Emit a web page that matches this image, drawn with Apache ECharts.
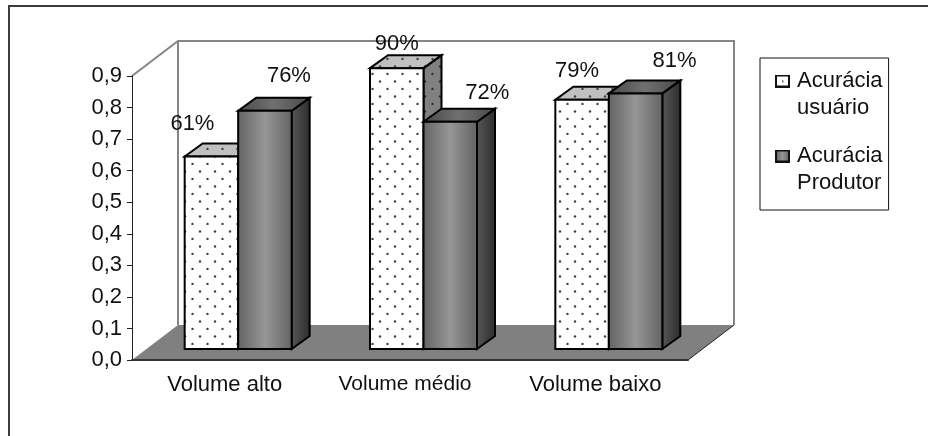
<!DOCTYPE html>
<html>
<head>
<meta charset="utf-8">
<style>html,body{margin:0;padding:0;background:#fff}#c{width:928px;height:436px}</style>
<script src="https://cdn.jsdelivr.net/npm/echarts@6/dist/echarts.min.js"></script>
</head>
<body>
<div id="c"></div>
<script>
var categories = ['Volume alto', 'Volume médio', 'Volume baixo'];
var yTicks = ['0,0', '0,1', '0,2', '0,3', '0,4', '0,5', '0,6', '0,7', '0,8', '0,9'];
var seriesNames = ['Acurácia usuário', 'Acurácia Produtor'];
var usuarioValues = [0.61, 0.89, 0.79];
var produtorValues = [0.755, 0.72, 0.81];
var usuarioLabels = ['61%', '90%', '79%'];
var produtorLabels = ['76%', '72%', '81%'];
// label nudges from the front-top centre of each bar
var usuarioNudge = [[-19, -33], [0, -24], [-5, -29]];
var produtorNudge = [[24, -35], [37, -29], [39, -32]];

var FONT = '"Liberation Sans", Arial, sans-serif';
var FONT_SIZE = 22;
var TEXT = '#111';

function dots(bg, dot) {
  var c = document.createElement('canvas');
  c.width = 15; c.height = 15;
  var g = c.getContext('2d');
  g.fillStyle = bg; g.fillRect(0, 0, 15, 15);
  g.fillStyle = dot;
  g.beginPath(); g.arc(12.5, 14, 1.2, 0, 7); g.fill();
  g.beginPath(); g.arc(5, 6.5, 1.2, 0, 7); g.fill();
  return { image: c, repeat: 'repeat' };
}
var frontDots = dots('#ffffff', '#404040');
var topDots = dots('#c0c0c0', '#404040');
var sideDots = dots('#808080', '#303030');

function hGrad(stops) {
  return { type: 'linear', x: 0, y: 0, x2: 1, y2: 0, colorStops: stops.map(function (s, i) {
    return { offset: i / (stops.length - 1), color: s };
  }) };
}
var skins = [
  { front: frontDots, top: topDots, side: sideDots },
  { front: hGrad(['#626262', '#969696', '#626262']),
    top: hGrad(['#484848', '#707070', '#484848']),
    side: hGrad(['#585858', '#2c2c2c']) }
];

function legendIcon(kind) {
  var c = document.createElement('canvas');
  c.width = 15; c.height = 13;
  var g = c.getContext('2d');
  if (kind === 0) {
    g.fillStyle = '#fff'; g.fillRect(0, 0, 15, 13);
    g.fillStyle = '#333'; g.fillRect(7, 6, 1.5, 1.5);
  } else {
    var lg = g.createLinearGradient(0, 0, 15, 0);
    lg.addColorStop(0, '#5e5e5e'); lg.addColorStop(0.5, '#969696'); lg.addColorStop(1, '#5e5e5e');
    g.fillStyle = lg; g.fillRect(0, 0, 15, 13);
  }
  g.strokeStyle = '#111'; g.lineWidth = 2; g.strokeRect(1, 1, 13, 11);
  return c;
}

function wallsItem(params, api) {
  var x0 = api.coord([0, 0])[0] - api.size([1, 0])[0] / 2;
  var x1 = x0 + api.size([1, 0])[0] * categories.length;
  var y0 = api.coord([0, 0])[1];
  var y1 = api.coord([0, 0.9])[1];
  var dx = 46, dy = -35;
  var wall = { stroke: '#868686', lineWidth: 2, fill: 'none' };
  return { type: 'group', silent: true, children: [
    { type: 'polygon', shape: { points: [[x0, y0], [x0 + dx, y0 + dy], [x1 + dx, y0 + dy], [x1, y0]] },
      style: { fill: '#808080', stroke: 'none' } },
    { type: 'line', shape: { x1: x1, y1: y0, x2: x1 + dx, y2: y0 + dy }, style: { stroke: '#222', lineWidth: 1 } },
    { type: 'polyline', shape: { points: [[x0, y1], [x0 + dx, y1 + dy], [x1 + dx, y1 + dy], [x1 + dx, y0 + dy]] }, style: wall },
    { type: 'line', shape: { x1: x0 + dx, y1: y1 + dy, x2: x0 + dx, y2: y0 + dy }, style: wall }
  ] };
}

function barItem(seriesIdx, labels, nudges) {
  return function (params, api) {
    var i = api.value(0);
    var v = api.value(1);
    var cx = api.coord([i, 0])[0] + 13.5;
    var w = 53.5;
    var offY = -11;
    var base = api.coord([i, 0])[1] + offY;
    var top = api.coord([i, v])[1] + offY;
    var l = cx + (seriesIdx - 1) * w;
    var r = l + w;
    var dx = 18, dy = -13;
    var skin = skins[seriesIdx];
    var edge = { stroke: '#000', lineWidth: 2, lineJoin: 'miter' };
    function face(points, fill) {
      return { type: 'polygon', shape: { points: points },
        style: { fill: fill, stroke: edge.stroke, lineWidth: edge.lineWidth, lineJoin: edge.lineJoin } };
    }
    return { type: 'group', silent: true, children: [
      face([[r, base], [r + dx, base + dy], [r + dx, top + dy], [r, top]], skin.side),
      face([[l, top], [l + dx, top + dy], [r + dx, top + dy], [r, top]], skin.top),
      face([[l, base], [r, base], [r, top], [l, top]], skin.front),
      { type: 'text', z2: 50, style: {
        text: labels[i], x: (l + r) / 2 + nudges[i][0], y: top + nudges[i][1],
        font: FONT_SIZE + 'px ' + FONT, fill: TEXT, align: 'center', verticalAlign: 'middle' } }
    ] };
  };
}

var chart = echarts.init(document.getElementById('c'), null, { renderer: 'canvas' });
chart.setOption({
  animation: false,
  backgroundColor: '#fff',
  grid: { left: 132, right: 240, top: 76, bottom: 76, containLabel: false },
  xAxis: {
    type: 'category', boundaryGap: true, z: 1,
    data: categories.map(function (c, i) {
      return i === 1 ? { value: c, textStyle: { fontSize: 21, padding: [0, 10, 0, 0] } } : c;
    }),
    axisLine: { lineStyle: { color: '#333', width: 2 } },
    axisTick: { length: 5, lineStyle: { color: '#333', width: 1 } },
    axisLabel: { color: TEXT, fontSize: FONT_SIZE, fontFamily: FONT, margin: 14 }
  },
  yAxis: {
    type: 'value', min: 0, max: 0.9, interval: 0.1,
    splitLine: { show: false },
    axisLine: { show: true, lineStyle: { color: '#222', width: 1 } },
    axisTick: { show: true, length: 5, lineStyle: { color: '#222', width: 1 } },
    axisLabel: { color: TEXT, fontSize: FONT_SIZE, fontFamily: FONT, margin: 10,
      formatter: function (v) { return yTicks[Math.round(v * 10)]; } }
  },
  legend: {
    left: 760, top: 58, orient: 'vertical', selectedMode: false,
    data: seriesNames, icon: 'rect', itemWidth: 0, itemHeight: 0, itemGap: 26,
    padding: [12, 6, 16, 10],
    borderColor: '#111', borderWidth: 1, backgroundColor: '#fff',
    formatter: function (name) {
      var p = name.split(' ');
      var ic = name === seriesNames[0] ? 'i0' : 'i1';
      return '{' + ic + '|}{g|}{t|' + p[0] + '}\n{s|}{t|' + p[1] + '}';
    },
    textStyle: {
      rich: {
        i0: { width: 15, height: 13, backgroundColor: { image: legendIcon(0) } },
        i1: { width: 15, height: 13, backgroundColor: { image: legendIcon(1) } },
        g: { width: 7 },
        s: { width: 22 },
        t: { fontSize: FONT_SIZE, fontFamily: FONT, color: TEXT, lineHeight: 27 }
      }
    }
  },
  graphic: [
    { type: 'polyline', silent: true, shape: { points: [[9, 436], [9, 6], [928, 6]] },
      style: { stroke: '#3c3c3c', lineWidth: 2, fill: 'none' } }
  ],
  series: [
    { type: 'custom', name: 'walls', z: -1, silent: true, renderItem: wallsItem, data: [[0, 0]], encode: { x: 0, y: 1 } },
    { type: 'custom', name: seriesNames[0], z: 3, renderItem: barItem(0, usuarioLabels, usuarioNudge),
      data: usuarioValues.map(function (v, i) { return [i, v]; }), encode: { x: 0, y: 1 } },
    { type: 'custom', name: seriesNames[1], z: 4, renderItem: barItem(1, produtorLabels, produtorNudge),
      data: produtorValues.map(function (v, i) { return [i, v]; }), encode: { x: 0, y: 1 } }
  ]
});
</script>
</body>
</html>
